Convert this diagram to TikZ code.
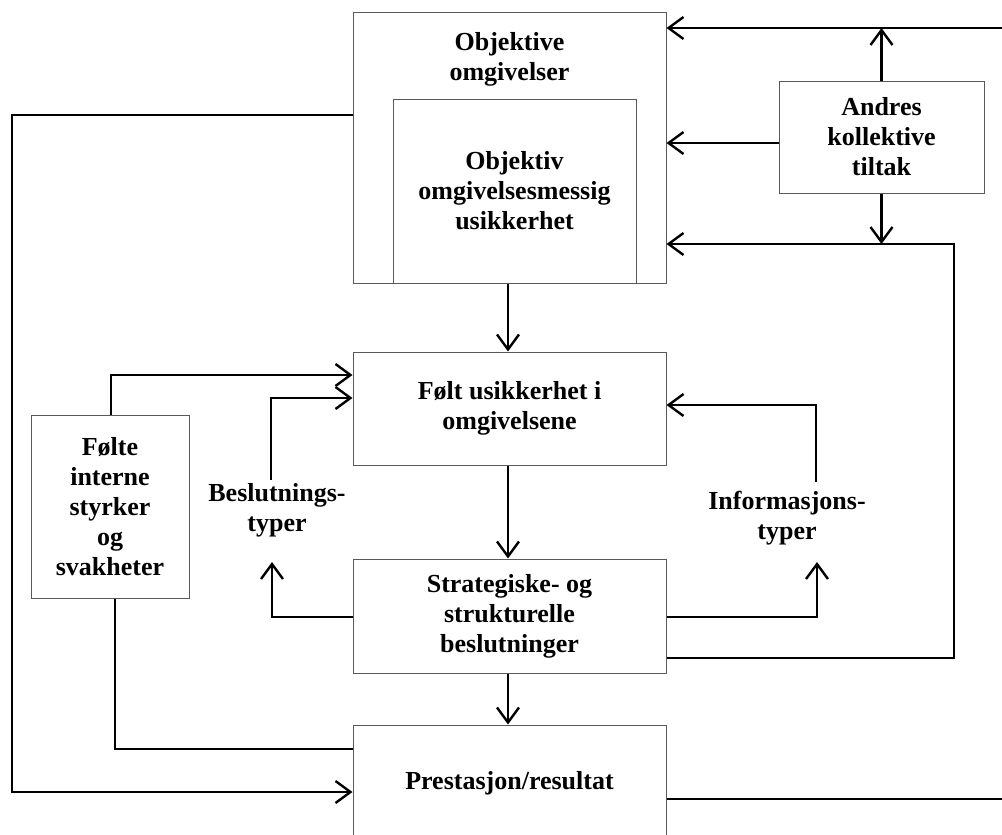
\documentclass[tikz,border=0pt]{standalone}
\usepackage{fontspec}
\setmainfont{Liberation Serif}
\usetikzlibrary{arrows.meta,calc}
\begin{document}
\begin{tikzpicture}[x=1pt,y=-1pt,
  lbl/.style={align=center,inner sep=0pt,font=\bfseries\fontsize{26}{30}\selectfont},
  box/.style={lbl,draw=black!65,line width=1pt,rectangle},
  conn/.style={line width=2.4pt,draw=black},
  arr/.style={conn,-{Straight Barb[length=15pt,width=22pt]}}]
\useasboundingbox (0,0) rectangle (1002,835);
\clip (0,0) rectangle (1002,835);
% boxes
\node[box,minimum width=313pt,minimum height=271pt] (obj) at (509.5,147.5) {};
\node[lbl] (objt) at (509.5,59.5) {Objektive\\omgivelser};
\node[box,minimum width=243pt,minimum height=184pt] (inner) at (514.5,191) {Objektiv\\omgivelsesmessig\\usikkerhet};
\node[box,minimum width=205pt,minimum height=112pt] (andres) at (881.5,137) {Andres\\kollektive\\tiltak};
\node[box,minimum width=313pt,minimum height=113pt] (folt) at (509.5,408.5) {Følt usikkerhet i\\omgivelsene};
\node[box,minimum width=158pt,minimum height=183pt] (folte) at (110,506.5) {Følte\\interne\\styrker\\og\\svakheter};
\node[box,minimum width=313pt,minimum height=114pt] (strat) at (509.5,616) {Strategiske- og\\strukturelle\\beslutninger};
\node[box,minimum width=313pt,minimum height=116pt] (prest) at (509.5,783) {Prestasjon/resultat};
\node[lbl] (besl) at (277,510) {Beslutnings-\\typer};
\node[lbl] (info) at (787,518) {Informasjons-\\typer};
% free ends and corners
\coordinate (rtop) at (1002,28);
\coordinate (rbot) at (1002,799);
\coordinate (bupA) at (272,562);
\coordinate (bupB) at (271,480);
\coordinate (iupA) at (817,562);
\coordinate (iupB) at (816,482);
\coordinate (leftx) at (12,0);
\coordinate (rightx) at (954,0);
% connectors
\draw[arr] (rtop) -- (obj.east |- rtop);
\draw[arr] (andres.north) -- (andres.north |- rtop);
\draw[arr] (andres.west |- 0,143) -- (obj.east |- 0,143);
\draw[arr] (andres.south) -- (andres.south |- 0,244);
\draw[arr] (strat.east |- 0,658) -- (rightx |- 0,658) -- (rightx |- 0,244) -- (obj.east |- 0,244);
\draw[arr] (obj.west |- 0,115) -- (leftx |- 0,115) -- (leftx |- 0,792) -- (prest.west |- 0,792);
\draw[arr] (obj.south -| 508,0) -- (folt.north -| 508,0);
\draw[arr] (folte.north -| 111,0) -- (111,375) -- (folt.west |- 0,375);
\draw[arr] (strat.west |- 0,617) -- (bupA |- 0,617) -- (bupA);
\draw[arr] (bupB) -- (bupB |- 0,398) -- (folt.west |- 0,398);
\draw[arr] (strat.east |- 0,617) -- (iupA |- 0,617) -- (iupA);
\draw[arr] (iupB) -- (iupB |- 0,405) -- (folt.east |- 0,405);
\draw[arr] (folt.south -| 508,0) -- (strat.north -| 508,0);
\draw[arr] (strat.south -| 508,0) -- (prest.north -| 508,0);
\draw[conn] (folte.south -| 115,0) -- (115,749) -- (prest.west |- 0,749);
\draw[conn] (prest.east |- rbot) -- (rbot);
\end{tikzpicture}
\end{document}
